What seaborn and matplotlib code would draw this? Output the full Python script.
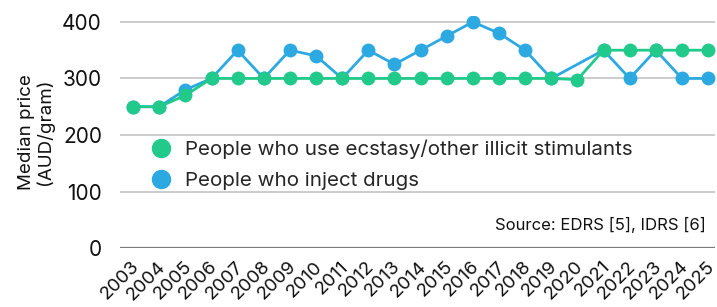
import numpy as np
import pandas as pd
import matplotlib
matplotlib.use("Agg")
import matplotlib.pyplot as plt
import matplotlib.transforms as mtransforms
from matplotlib.lines import Line2D
import seaborn as sns

# Chart data
years = list(range(2003, 2026))
ecstasy_price = [250, 250, 270, 300, 300, 300, 300, 300, 300, 300, 300, 300,
                 300, 300, 300, 300, 300, 298, 350, 350, 350, 350, 350]
inject_price = [250, 250, 280, 300, 350, 300, 350, 340, 300, 350, 325, 350,
                375, 400, 380, 350, 300, np.nan, 350, 300, 350, 300, 300]
series_names = ["People who use ecstasy/other illicit stimulants",
                "People who inject drugs"]
source_text = "Source: EDRS [5], IDRS [6]"

green = "#21c98a"
blue = "#2ca9e1"

sns.set_theme(style="white")
plt.rcParams['font.family'] = ['Inter', 'DejaVu Sans']

df_ecs = pd.DataFrame({"year": years, "price": ecstasy_price}).dropna()
df_inj = pd.DataFrame({"year": years, "price": inject_price}).dropna()

fig = plt.figure(figsize=(7.17, 3.07), dpi=100)
ax = fig.add_axes([0.1674, 0.192, 0.83, 0.755])

for y in [100, 200, 300, 400]:
    ax.axhline(y, color="#c8c8c8", lw=1.3, zorder=0)
ax.axhline(0, color="#7a7a7a", lw=1.6, zorder=0)

sns.lineplot(data=df_inj, x="year", y="price", color=blue, lw=2,
             marker="o", markersize=10, markeredgewidth=0, ax=ax)
sns.lineplot(data=df_ecs, x="year", y="price", color=green, lw=2,
             marker="o", markersize=10, markeredgewidth=0, ax=ax)

ax.set_xlim(2002.5, 2025.27)
ax.set_ylim(0, 410)
ax.set_yticks([0, 100, 200, 300, 400])
ax.set_xticks(years)
ax.set_xticklabels([str(y) for y in years], rotation=45, ha="right",
                   va="center", rotation_mode="anchor")
ax.tick_params(axis="y", length=0, pad=13, labelsize=15, colors="#111111")
ax.tick_params(axis="x", length=0, pad=0, labelsize=13.5, colors="#111111")
offset = mtransforms.ScaledTranslation(0.035, -0.16, fig.dpi_scale_trans)
for lbl in ax.get_xticklabels():
    lbl.set_transform(lbl.get_transform() + offset)
for s in ax.spines.values():
    s.set_visible(False)

ax.set_xlabel("")
ax.set_ylabel("Median price\n(AUD/gram)", fontsize=13.5, color="#111111",
              labelpad=6, linespacing=1.05)

handles = [Line2D([], [], marker="o", color=green, lw=0, markersize=13),
           Line2D([], [], marker="o", color=blue, lw=0, markersize=13)]
ax.legend(handles, series_names, loc="upper left", bbox_to_anchor=(0.02, 0.505),
          frameon=False, fontsize=14.8, handletextpad=0.2, labelspacing=0.62,
          borderaxespad=0)

ax.text(0.985, 0.1, source_text, transform=ax.transAxes, ha="right",
        va="center", fontsize=12, color="#111111")

fig.savefig("out.png", dpi=100)
